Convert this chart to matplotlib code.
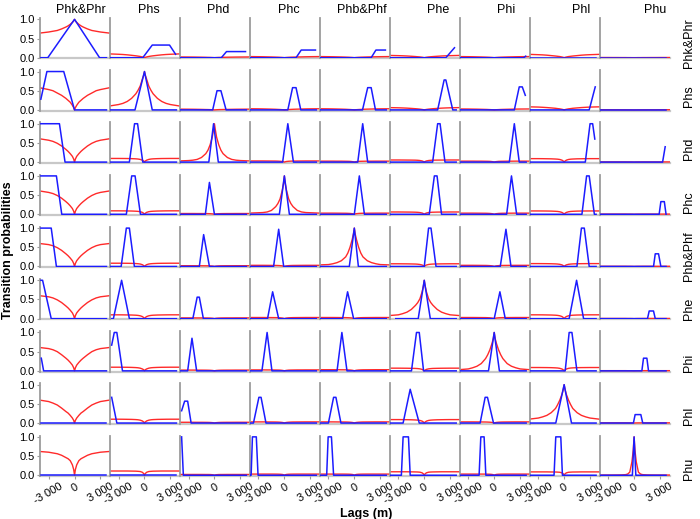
import numpy as np
import matplotlib.pyplot as plt

plt.rcParams['font.family'] = ['Liberation Sans', 'DejaVu Sans']

facies = ['Phk&Phr', 'Phs', 'Phd', 'Phc', 'Phb&Phf', 'Phe', 'Phi', 'Phl', 'Phu']

# model curves (red): values at these lags, same on the negative side
half_lags = [0, 100, 250, 500, 750, 1000, 1500, 2000, 2500, 3000, 4100]

red_phk = [[1, 0.96, 0.92, 0.87, 0.83, 0.8, 0.75, 0.71, 0.69, 0.67, 0.64],
           [0, 0.01, 0.02, 0.033, 0.042, 0.05, 0.063, 0.075, 0.084, 0.09, 0.1],
           [0, 0.002, 0.004, 0.007, 0.008, 0.01, 0.013, 0.015, 0.017, 0.018, 0.02],
           [0, 0.003, 0.006, 0.01, 0.013, 0.015, 0.019, 0.022, 0.025, 0.027, 0.03],
           [0, 0.003, 0.006, 0.01, 0.013, 0.015, 0.019, 0.022, 0.025, 0.027, 0.03],
           [0, 0.006, 0.012, 0.02, 0.025, 0.03, 0.038, 0.045, 0.05, 0.054, 0.06],
           [0, 0.003, 0.006, 0.01, 0.013, 0.015, 0.019, 0.022, 0.025, 0.027, 0.03],
           [0, 0.009, 0.018, 0.03, 0.037, 0.044, 0.055, 0.066, 0.074, 0.079, 0.088],
           [0, 0.001, 0.001, 0.002, 0.002, 0.003, 0.003, 0.004, 0.004, 0.005, 0.005]]
red_phs = [[0, 0.06, 0.12, 0.2, 0.25, 0.3, 0.38, 0.44, 0.5, 0.53, 0.58],
           [1, 0.9, 0.8, 0.62, 0.51, 0.42, 0.3, 0.22, 0.17, 0.14, 0.1],
           [0, 0.002, 0.004, 0.007, 0.009, 0.01, 0.013, 0.015, 0.017, 0.018, 0.02],
           [0, 0.003, 0.006, 0.01, 0.013, 0.016, 0.02, 0.023, 0.026, 0.028, 0.03],
           [0, 0.003, 0.006, 0.01, 0.013, 0.016, 0.02, 0.023, 0.026, 0.028, 0.03],
           [0, 0.006, 0.012, 0.02, 0.026, 0.031, 0.039, 0.046, 0.051, 0.055, 0.06],
           [0, 0.003, 0.005, 0.008, 0.011, 0.013, 0.016, 0.019, 0.021, 0.023, 0.025],
           [0, 0.008, 0.016, 0.027, 0.034, 0.042, 0.052, 0.061, 0.068, 0.074, 0.08],
           [0, 0.001, 0.001, 0.002, 0.002, 0.003, 0.003, 0.004, 0.004, 0.005, 0.005]]
red_phd = [[0, 0.08, 0.15, 0.22, 0.28, 0.33, 0.42, 0.49, 0.54, 0.57, 0.61],
           [0, 0.03, 0.05, 0.07, 0.08, 0.085, 0.09, 0.093, 0.094, 0.095, 0.095],
           [1, 0.85, 0.65, 0.45, 0.31, 0.22, 0.12, 0.07, 0.05, 0.04, 0.03],
           [0, 0.009, 0.016, 0.022, 0.025, 0.027, 0.028, 0.029, 0.03, 0.03, 0.03],
           [0, 0.007, 0.013, 0.019, 0.021, 0.022, 0.024, 0.024, 0.025, 0.025, 0.025],
           [0, 0.016, 0.03, 0.041, 0.047, 0.05, 0.052, 0.053, 0.054, 0.055, 0.055],
           [0, 0.007, 0.013, 0.019, 0.021, 0.022, 0.024, 0.024, 0.025, 0.025, 0.025],
           [0, 0.027, 0.05, 0.068, 0.076, 0.08, 0.085, 0.087, 0.089, 0.09, 0.09],
           [0, 0.002, 0.003, 0.004, 0.004, 0.005, 0.005, 0.005, 0.005, 0.005, 0.005]]
red_phc = [[0, 0.08, 0.15, 0.22, 0.28, 0.33, 0.42, 0.49, 0.54, 0.57, 0.61],
           [0, 0.027, 0.05, 0.068, 0.076, 0.08, 0.085, 0.087, 0.089, 0.09, 0.09],
           [0, 0.006, 0.011, 0.015, 0.017, 0.018, 0.019, 0.019, 0.02, 0.02, 0.02],
           [1, 0.8, 0.62, 0.4, 0.28, 0.2, 0.1, 0.06, 0.045, 0.04, 0.03],
           [0, 0.009, 0.016, 0.022, 0.025, 0.027, 0.028, 0.029, 0.03, 0.03, 0.03],
           [0, 0.018, 0.033, 0.045, 0.051, 0.054, 0.057, 0.058, 0.059, 0.06, 0.06],
           [0, 0.009, 0.016, 0.022, 0.025, 0.027, 0.028, 0.029, 0.03, 0.03, 0.03],
           [0, 0.026, 0.048, 0.065, 0.074, 0.078, 0.083, 0.085, 0.086, 0.087, 0.087],
           [0, 0.002, 0.003, 0.004, 0.004, 0.005, 0.005, 0.005, 0.005, 0.005, 0.005]]
red_phb = [[0, 0.08, 0.15, 0.22, 0.28, 0.33, 0.42, 0.49, 0.54, 0.57, 0.6],
           [0, 0.025, 0.047, 0.064, 0.072, 0.076, 0.081, 0.083, 0.084, 0.085, 0.085],
           [0, 0.006, 0.011, 0.015, 0.017, 0.018, 0.019, 0.019, 0.02, 0.02, 0.02],
           [0, 0.009, 0.016, 0.022, 0.025, 0.027, 0.028, 0.029, 0.03, 0.03, 0.03],
           [1, 0.85, 0.7, 0.5, 0.35, 0.25, 0.15, 0.1, 0.07, 0.05, 0.04],
           [0, 0.021, 0.038, 0.052, 0.059, 0.063, 0.066, 0.068, 0.069, 0.07, 0.07],
           [0, 0.009, 0.016, 0.022, 0.025, 0.027, 0.028, 0.029, 0.03, 0.03, 0.03],
           [0, 0.022, 0.041, 0.056, 0.063, 0.067, 0.071, 0.073, 0.074, 0.075, 0.075],
           [0, 0.002, 0.003, 0.004, 0.004, 0.005, 0.005, 0.005, 0.005, 0.005, 0.005]]
red_phe = [[0, 0.08, 0.15, 0.22, 0.28, 0.33, 0.42, 0.49, 0.54, 0.57, 0.6],
           [0, 0.03, 0.055, 0.075, 0.085, 0.09, 0.095, 0.097, 0.099, 0.1, 0.1],
           [0, 0.006, 0.011, 0.015, 0.017, 0.018, 0.019, 0.019, 0.02, 0.02, 0.02],
           [0, 0.009, 0.016, 0.022, 0.025, 0.027, 0.028, 0.029, 0.03, 0.03, 0.03],
           [0, 0.009, 0.016, 0.022, 0.025, 0.027, 0.028, 0.029, 0.03, 0.03, 0.03],
           [1, 0.85, 0.7, 0.52, 0.42, 0.35, 0.24, 0.17, 0.13, 0.1, 0.08],
           [0, 0.009, 0.016, 0.022, 0.025, 0.027, 0.028, 0.029, 0.03, 0.03, 0.03],
           [0, 0.03, 0.055, 0.075, 0.085, 0.09, 0.095, 0.097, 0.099, 0.1, 0.1],
           [0, 0.002, 0.003, 0.004, 0.004, 0.005, 0.005, 0.005, 0.005, 0.005, 0.005]]
red_phi = [[0, 0.08, 0.15, 0.22, 0.28, 0.33, 0.42, 0.5, 0.55, 0.58, 0.61],
           [0, 0.03, 0.05, 0.07, 0.08, 0.085, 0.09, 0.093, 0.094, 0.095, 0.095],
           [0, 0.006, 0.011, 0.015, 0.017, 0.018, 0.019, 0.019, 0.02, 0.02, 0.02],
           [0, 0.007, 0.013, 0.019, 0.021, 0.022, 0.024, 0.024, 0.025, 0.025, 0.025],
           [0, 0.009, 0.016, 0.022, 0.025, 0.027, 0.028, 0.029, 0.03, 0.03, 0.03],
           [0, 0.021, 0.038, 0.052, 0.059, 0.063, 0.066, 0.068, 0.069, 0.07, 0.07],
           [1, 0.85, 0.72, 0.55, 0.42, 0.32, 0.19, 0.12, 0.08, 0.05, 0.03],
           [0, 0.026, 0.048, 0.065, 0.074, 0.078, 0.083, 0.085, 0.086, 0.087, 0.087],
           [0, 0.002, 0.003, 0.004, 0.004, 0.005, 0.005, 0.005, 0.005, 0.005, 0.005]]
red_phl = [[0, 0.07, 0.13, 0.2, 0.26, 0.3, 0.39, 0.47, 0.52, 0.56, 0.6],
           [0, 0.03, 0.055, 0.075, 0.085, 0.09, 0.095, 0.097, 0.099, 0.1, 0.1],
           [0, 0.006, 0.011, 0.015, 0.017, 0.018, 0.019, 0.019, 0.02, 0.02, 0.02],
           [0, 0.009, 0.016, 0.022, 0.025, 0.027, 0.028, 0.029, 0.03, 0.03, 0.03],
           [0, 0.009, 0.016, 0.022, 0.025, 0.027, 0.028, 0.029, 0.03, 0.03, 0.03],
           [0, 0.027, 0.05, 0.068, 0.076, 0.08, 0.085, 0.087, 0.089, 0.09, 0.09],
           [0, 0.009, 0.016, 0.022, 0.025, 0.027, 0.028, 0.029, 0.03, 0.03, 0.03],
           [1, 0.88, 0.75, 0.6, 0.48, 0.38, 0.27, 0.2, 0.16, 0.13, 0.1],
           [0, 0.002, 0.003, 0.004, 0.004, 0.005, 0.005, 0.005, 0.005, 0.005, 0.005]]
red_phu = [[0, 0.15, 0.27, 0.38, 0.43, 0.46, 0.52, 0.56, 0.58, 0.6, 0.62],
           [0, 0.045, 0.077, 0.097, 0.102, 0.106, 0.108, 0.11, 0.11, 0.11, 0.11],
           [0, 0.008, 0.014, 0.018, 0.019, 0.019, 0.02, 0.02, 0.02, 0.02, 0.02],
           [0, 0.012, 0.021, 0.026, 0.028, 0.029, 0.03, 0.03, 0.03, 0.03, 0.03],
           [0, 0.012, 0.021, 0.026, 0.028, 0.029, 0.03, 0.03, 0.03, 0.03, 0.03],
           [0, 0.036, 0.063, 0.079, 0.084, 0.086, 0.088, 0.09, 0.09, 0.09, 0.09],
           [0, 0.012, 0.021, 0.026, 0.028, 0.029, 0.03, 0.03, 0.03, 0.03, 0.03],
           [0, 0.035, 0.061, 0.077, 0.081, 0.084, 0.085, 0.087, 0.087, 0.087, 0.087],
           [1, 0.65, 0.35, 0.08, 0.03, 0.015, 0.008, 0.006, 0.005, 0.005, 0.005]]

# measured curves (blue): (lag, probability) points
blue_phk = [[(-3900, 0), (-3100, 0), (0, 1), (2900, 0), (3700, 0)],
            [(-3900, 0), (-200, 0), (900, 0.33), (2900, 0.33), (3600, 0.09)],
            [(-3900, 0), (800, 0), (1400, 0.16), (3600, 0.16)],
            [(-3900, 0), (1350, 0), (1950, 0.2), (3600, 0.2)],
            [(-3900, 0), (1950, 0), (2500, 0.2), (3600, 0.2)],
            [(-3900, 0), (2500, 0), (3500, 0.26)],
            [(-3900, 0), (3400, 0), (3650, 0.04)],
            [(-3900, 0), (3700, 0)],
            [(-3900, 0), (3700, 0)]]
blue_phs = [[(-3900, 0.28), (-3200, 1), (-1250, 1), (0, 0), (3700, 0)],
            [(-3900, 0), (-1100, 0), (0, 1), (900, 0), (3700, 0)],
            [(-3900, 0), (-200, 0), (300, 0.5), (750, 0.5), (1350, 0), (3700, 0)],
            [(-3900, 0), (400, 0), (950, 0.58), (1350, 0.58), (1900, 0), (3700, 0)],
            [(-3900, 0), (950, 0), (1550, 0.58), (1950, 0.58), (2450, 0), (3700, 0)],
            [(-3900, 0), (1550, 0), (2300, 0.78), (2500, 0.78), (3300, 0), (3700, 0)],
            [(-3900, 0), (2330, 0), (2900, 0.6), (3250, 0.6), (3600, 0.38)],
            [(-3900, 0), (2900, 0), (3600, 0.6)],
            [(-3900, 0), (3700, 0)]]
blue_phd = [[(-3900, 1), (-1750, 1), (-1100, 0), (3700, 0)],
            [(-3900, 0), (-1750, 0), (-1150, 1), (-800, 1), (-200, 0), (3700, 0)],
            [(-3900, 0), (-650, 0), (-100, 1), (450, 0), (3700, 0)],
            [(-3900, 0), (-200, 0), (400, 1), (1050, 0), (3700, 0)],
            [(-3900, 0), (400, 0), (970, 1), (1550, 0), (3700, 0)],
            [(-3900, 0), (970, 0), (1550, 1), (1830, 1), (2400, 0), (3700, 0)],
            [(-3900, 0), (1750, 0), (2330, 1), (2900, 0), (3700, 0)],
            [(-3900, 0), (2450, 0), (3000, 1), (3300, 1), (3550, 0.6)],
            [(-3900, 0), (3300, 0), (3600, 0.4)]]
blue_phc = [[(-3900, 1), (-2100, 1), (-1480, 0), (3700, 0)],
            [(-3900, 0), (-2100, 0), (-1480, 1), (-1090, 1), (-470, 0), (3700, 0)],
            [(-3900, 0), (-1050, 0), (-580, 0.83), (0, 0), (3700, 0)],
            [(-3900, 0), (-580, 0), (0, 1), (580, 0), (3700, 0)],
            [(-3900, 0), (0, 0), (580, 1), (1170, 0), (3700, 0)],
            [(-3900, 0), (580, 0), (1170, 1), (1480, 1), (2000, 0), (3700, 0)],
            [(-3900, 0), (1440, 0), (2000, 1), (2600, 0), (3700, 0)],
            [(-3900, 0), (2060, 0), (2600, 1), (2900, 1), (3500, 0), (3700, 0)],
            [(-3900, 0), (2900, 0), (3100, 0.33), (3500, 0.33), (3700, 0)]]
blue_phb = [[(-3900, 1), (-2700, 1), (-2100, 0), (3700, 0)],
            [(-3900, 0), (-2700, 0), (-2100, 1), (-1750, 1), (-1170, 0), (3700, 0)],
            [(-3900, 0), (-1750, 0), (-1250, 0.83), (-580, 0), (3700, 0)],
            [(-3900, 0), (-1250, 0), (-660, 0.97), (-80, 0), (3700, 0)],
            [(-3900, 0), (-580, 0), (0, 1), (470, 0), (3700, 0)],
            [(-3900, 0), (0, 0), (500, 1), (780, 1), (1360, 0), (3700, 0)],
            [(-3900, 0), (700, 0), (1360, 0.97), (1940, 0), (3700, 0)],
            [(-3900, 0), (1480, 0), (2000, 1), (2330, 1), (2900, 0), (3700, 0)],
            [(-3900, 0), (2250, 0), (2450, 0.33), (2830, 0.33), (3100, 0), (3700, 0)]]
blue_phe = [[(-3900, 1), (-3700, 1), (-2700, 0), (3700, 0)],
            [(-3800, 0), (-3600, 0), (-2650, 1), (-1750, 0), (3700, 0)],
            [(-3900, 0), (-2500, 0), (-2000, 0.56), (-1750, 0.56), (-1280, 0), (3700, 0)],
            [(-3900, 0), (-1950, 0), (-1360, 0.7), (-660, 0), (3700, 0)],
            [(-3900, 0), (-1360, 0), (-780, 0.7), (-80, 0), (3700, 0)],
            [(-3300, 0), (-700, 0), (0, 1), (700, 0), (3700, 0)],
            [(-3900, 0), (0, 0), (660, 0.7), (1280, 0), (3700, 0)],
            [(-3900, 0), (580, 0), (1440, 1), (2250, 0), (3700, 0)],
            [(-3900, 0), (1550, 0), (1750, 0.2), (2250, 0.2), (2450, 0), (3700, 0)]]
blue_phi = [[(-3850, 0.33), (-3580, 0), (3700, 0)],
            [(-3800, 0.67), (-3500, 1), (-3200, 1), (-2550, 0), (3700, 0)],
            [(-3900, 0), (-3100, 0), (-2600, 0.85), (-2060, 0), (3700, 0)],
            [(-3900, 0), (-2600, 0), (-2000, 1), (-1440, 0), (3700, 0)],
            [(-3900, 0), (-2000, 0), (-1440, 1), (-850, 0), (3700, 0)],
            [(-3900, 0), (-1480, 0), (-900, 1), (-580, 1), (-80, 0), (3700, 0)],
            [(-3900, 0), (-660, 0), (0, 1), (600, 0), (3700, 0)],
            [(-3900, 0), (120, 0), (580, 1), (900, 1), (1480, 0), (3700, 0)],
            [(-3900, 0), (900, 0), (1090, 0.33), (1480, 0.33), (1670, 0), (3700, 0)]]
blue_phl = [[(-3900, 0), (3700, 0)],
            [(-3800, 0.67), (-3200, 0), (3700, 0)],
            [(-3800, 0.32), (-3450, 0.57), (-3100, 0.57), (-2700, 0), (3700, 0)],
            [(-3900, 0), (-3580, 0), (-2950, 0.67), (-2700, 0.67), (-2130, 0), (3700, 0)],
            [(-3900, 0), (-3000, 0), (-2400, 0.67), (-2130, 0.67), (-1550, 0), (3700, 0)],
            [(-3900, 0), (-2450, 0), (-1630, 0.88), (-580, 0), (3700, 0)],
            [(-3900, 0), (-1630, 0), (-1050, 0.67), (-780, 0.67), (-80, 0), (3700, 0)],
            [(-3900, 0), (-970, 0), (0, 1), (850, 0), (3700, 0)],
            [(-3900, 0), (-80, 0), (120, 0.22), (780, 0.22), (1000, 0), (3700, 0)]]
blue_phu = [[(-3900, 0), (3700, 0)],
            [(-3900, 0), (3700, 0)],
            [(-3800, 1), (-3600, 0), (3700, 0)],
            [(-3900, 0), (-3850, 0), (-3700, 1), (-3250, 1), (-3050, 0), (3700, 0)],
            [(-3900, 0), (-3200, 0), (-3030, 1), (-2650, 1), (-2400, 0), (3700, 0)],
            [(-3900, 0), (-2650, 0), (-2450, 1), (-1830, 1), (-1630, 0), (3700, 0)],
            [(-3900, 0), (-1750, 0), (-1550, 1), (-1170, 1), (-970, 0), (3700, 0)],
            [(-3900, 0), (-1170, 0), (-970, 1), (-390, 1), (-200, 0), (3700, 0)],
            [(-3900, 0), (-200, 0), (0, 1), (200, 0), (3700, 0)]]

red_rows = [red_phk, red_phs, red_phd, red_phc, red_phb,
            red_phe, red_phi, red_phl, red_phu]
blue_rows = [blue_phk, blue_phs, blue_phd, blue_phc, blue_phb,
             blue_phe, blue_phi, blue_phl, blue_phu]

xticks = [-3000, 0, 3000]
xticklabels = ['-3 000', '0', '3 000']

# hand-placed text positions (pixels)
title_x = [80.5, 149, 218.5, 289, 362, 438, 506, 581, 655]
rowlab_y = [42.7 + 53.3*i for i in range(9)]

W, H = 700, 519
lags = np.concatenate([-np.array(half_lags[::-1]), np.array(half_lags[1:])])

fig, ax = plt.subplots(9, 9, figsize=(W/100, H/100), dpi=100,
                       sharex=True, sharey=True)
fig.subplots_adjust(left=40/W, right=669.5/W, top=1-18/H, bottom=1-476/H,
                    wspace=0, hspace=0.289)

for i in range(9):
    for j in range(9):
        a = ax[i, j]
        r = red_rows[i][j]
        a.plot(lags, r[::-1] + r[1:], color='#ff2a2a', lw=1.0, zorder=2)
        lb, pb = zip(*blue_rows[i][j])
        a.plot(lb, pb, color='#1c1cff', lw=1.1, zorder=3)

        a.set_xlim(-4000, 4100)
        a.set_ylim(-0.02, 1.035)
        for s in ['top', 'right']:
            a.spines[s].set_visible(False)
        a.spines['left'].set_color('#9c9c9c')
        a.spines['left'].set_linewidth(1.3)
        a.spines['bottom'].set_color('#c8c8c8')
        a.spines['bottom'].set_linewidth(1.6)
        a.spines['bottom'].set_zorder(1)

        a.tick_params(axis='y', length=2.5 if j == 0 else 0, width=0.8,
                      color='#9c9c9c', labelsize=8, pad=1.5)
        a.tick_params(axis='x', length=2.5 if i == 8 else 0, width=0.8,
                      color='#9c9c9c', labelsize=8, pad=1.5)

ax[0, 0].set_yticks([0, 0.5, 1.0])
ax[0, 0].set_yticklabels(['0.0', '0.5', '1.0'])
ax[0, 0].set_xticks(xticks)
for a in ax[8, :]:
    a.set_xticklabels(xticklabels, rotation=30)

for j in range(9):
    fig.text(title_x[j]/W, 1-13.3/H, facies[j], fontsize=9,
             ha='center', va='baseline')
for i in range(9):
    fig.text(689/W, 1-rowlab_y[i]/H, facies[i], fontsize=9,
             rotation=90, ha='center', va='center')

fig.text(8/W, 1-250/H, 'Transition probabilities', fontsize=9,
         fontweight='bold', rotation=90, ha='center', va='center')
fig.text(366.5/W, 1-516.5/H, 'Lags (m)', fontsize=9,
         fontweight='bold', ha='center', va='baseline')

fig.savefig('out.png', dpi=100)
